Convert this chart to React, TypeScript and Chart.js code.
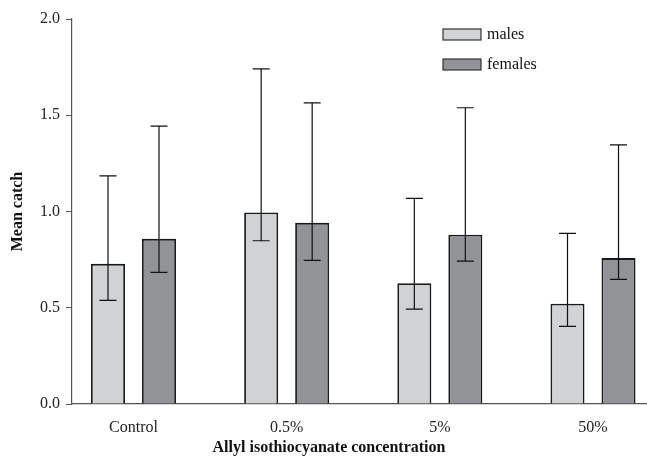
import React, { useEffect, useRef } from "react";
import { Chart, registerables } from "chart.js";

Chart.register(...registerables);

const categories = ["Control", "0.5%", "5%", "50%"];
const seriesNames = ["males", "females"];
const malesMean = [0.728, 0.995, 0.627, 0.521];
const malesUpper = [1.185, 1.741, 1.068, 0.886];
const malesLower = [0.538, 0.848, 0.493, 0.403];
const femalesMean = [0.858, 0.941, 0.879, 0.758];
const femalesUpper = [1.443, 1.564, 1.539, 1.346];
const femalesLower = [0.684, 0.746, 0.742, 0.647];
const yTicks = [0, 0.5, 1.0, 1.5, 2.0];

const FONT = "'Liberation Serif', 'Times New Roman', serif";

const errorBarPlugin = {
  id: "errorBars",
  afterDatasetsDraw(chart: any) {
    const ctx = chart.ctx;
    const yScale = chart.scales.y;
    chart.data.datasets.forEach((ds: any, i: number) => {
      const meta = chart.getDatasetMeta(i);
      meta.data.forEach((el: any, j: number) => {
        const x = el.x;
        const yHi = yScale.getPixelForValue(ds.errUpper[j]);
        const yLo = yScale.getPixelForValue(ds.errLower[j]);
        const cap = 8.5;
        ctx.save();
        ctx.strokeStyle = "#111";
        ctx.lineWidth = 1.2;
        ctx.beginPath();
        ctx.moveTo(x, yHi);
        ctx.lineTo(x, yLo);
        ctx.moveTo(x - cap, yHi);
        ctx.lineTo(x + cap, yHi);
        ctx.moveTo(x - cap, yLo);
        ctx.lineTo(x + cap, yLo);
        ctx.stroke();
        ctx.restore();
      });
    });
  },
};

const customLegendPlugin = {
  id: "customLegend",
  afterDraw(chart: any) {
    const ctx = chart.ctx;
    const area = chart.chartArea;
    const bx = area.left + 371;
    const by0 = area.top + 10;
    chart.data.datasets.forEach((ds: any, i: number) => {
      const by = by0 + i * 30;
      ctx.save();
      ctx.fillStyle = ds.backgroundColor;
      ctx.strokeStyle = "#333";
      ctx.lineWidth = 1.2;
      ctx.fillRect(bx, by, 38, 11);
      ctx.strokeRect(bx, by, 38, 11);
      ctx.fillStyle = "#111";
      ctx.font = `16px ${FONT}`;
      ctx.textBaseline = "middle";
      ctx.textAlign = "left";
      ctx.fillText(ds.label, bx + 44, by + 5.5);
      ctx.restore();
    });
  },
};

const xTitlePlugin = {
  id: "xTitle",
  afterDraw(chart: any) {
    const ctx = chart.ctx;
    ctx.save();
    ctx.fillStyle = "#111";
    ctx.font = `bold 16px ${FONT}`;
    ctx.textAlign = "center";
    ctx.textBaseline = "middle";
    ctx.fillText("Allyl isothiocyanate concentration", 329, 448);
    ctx.restore();
  },
};

export default function App() {
  const ref = useRef<HTMLCanvasElement | null>(null);

  useEffect(() => {
    if (!ref.current) return;
    const toPoints = (vals: number[]) => vals.map((v, i) => ({ x: i, y: v }));
    const chart = new Chart(ref.current, {
      type: "bar",
      data: {
        datasets: [
          {
            label: seriesNames[0],
            data: toPoints(malesMean),
            backgroundColor: "#d1d2d4",
            borderColor: "#1a1a1a",
            borderWidth: 1.8,
            errUpper: malesUpper,
            errLower: malesLower,
          } as any,
          {
            label: seriesNames[1],
            data: toPoints(femalesMean),
            backgroundColor: "#929397",
            borderColor: "#1a1a1a",
            borderWidth: 1.8,
            errUpper: femalesUpper,
            errLower: femalesLower,
          } as any,
        ],
      },
      options: {
        responsive: false,
        animation: false,
        categoryPercentage: 0.666,
        barPercentage: 0.667,
        layout: { padding: { top: 19, right: 0, left: 0, bottom: 0 } },
        plugins: {
          legend: { display: false },
          tooltip: { enabled: false },
        },
        scales: {
          x: {
            type: "linear",
            min: -0.4015,
            max: 3.3525,
            offset: false,
            grid: { display: false, drawTicks: false, offset: false },
            border: { display: true, color: "#555", width: 1.2 },
            afterBuildTicks: (scale: any) => {
              scale.ticks = categories.map((_, i) => ({ value: i }));
            },
            afterFit: (scale: any) => {
              scale.height = 56;
            },
            ticks: {
              padding: 14,
              color: "#222",
              font: { family: FONT, size: 16 },
              callback: (v: any) => categories[Number(v)] ?? "",
            },
          },
          y: {
            min: 0,
            max: 2,
            afterBuildTicks: (scale: any) => {
              scale.ticks = yTicks.map((v) => ({ value: v }));
            },
            afterFit: (scale: any) => {
              scale.width = 72;
            },
            grid: {
              display: true,
              drawOnChartArea: false,
              drawTicks: true,
              tickLength: 6,
              color: "#555",
            },
            border: { display: true, color: "#555", width: 1.2 },
            ticks: {
              padding: 6,
              color: "#222",
              font: { family: FONT, size: 16 },
              callback: (v: any) => Number(v).toFixed(1),
            },
            title: {
              display: true,
              text: "Mean catch",
              color: "#111",
              font: { family: FONT, size: 16, weight: "bold" },
              padding: { top: 8, bottom: 0 },
            },
          },
        },
      } as any,
      plugins: [errorBarPlugin, customLegendPlugin, xTitlePlugin],
    });
    return () => chart.destroy();
  }, []);

  return (
    <div style={{ position: "absolute", left: 0, top: 0, width: 647, height: 460, background: "#fff" }}>
      <canvas ref={ref} width={647} height={460} style={{ display: "block" }} />
    </div>
  );
}
